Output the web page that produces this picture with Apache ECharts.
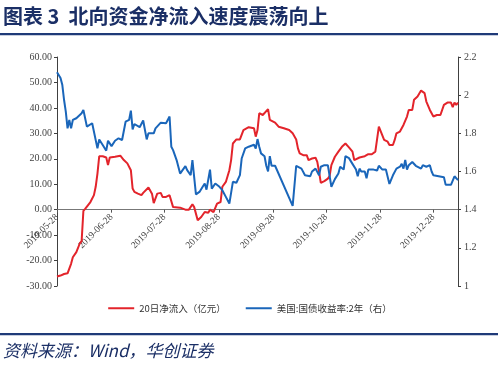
<!DOCTYPE html>
<html><head><meta charset="utf-8">
<script src="https://cdn.jsdelivr.net/npm/echarts@6/dist/echarts.min.js"></script>
<style>html,body{margin:0;padding:0;background:#fff}#c{width:500px;height:370px}</style>
</head><body><div id="c"></div>
<script>
// ---- data ----
const startDate = '2019-05-28';
const endDate = '2020-01-11';
const tickDates = ['2019-05-28','2019-06-28','2019-07-28','2019-08-28','2019-09-28','2019-10-28','2019-11-28','2019-12-28'];
const leftTicks = [-30,-20,-10,0,10,20,30,40,50,60];
const rightTicks = [1,1.2,1.4,1.6,1.8,2,2.2];
const titleText = '图表 3  北向资金净流入速度震荡向上';
const sourceText = '资料来源：Wind，华创证券';
const seriesNames = ['20日净流入（亿元）','美国:国债收益率:2年（右）'];

// day offsets from startDate, with values
const redDay = [0,2,4,6,7,8,9,11,13,14,15,16,17,19,21,22,23,24,26,28,29,30,33,36,37,38,40,42,43,44,46,48,49,52,54,55,57,59,60,62,64,65,66,70,73,75,77,78,80,82,84,86,87,89,90,91,93,94,96,98,99,100,102,104,106,109,110,112,113,114,115,117,118,120,121,122,124,126,129,132,134,136,137,138,140,142,143,145,147,148,149,150,152,154,155,156,158,160,162,164,165,166,168,169,170,172,173,175,177,179,181,182,183,184,186,188,189,191,192,193,195,197,199,200,202,203,205,207,209,210,212,214,216,217,218,220,222,224,225,226,227,228];
const redVal = [-26.3,-25.9,-25.3,-25.0,-24.6,-21.3,-18.7,-16.7,-13.2,-12.4,-0.5,0.3,1.0,3.0,5.7,9.0,14.2,21.0,21.0,20.5,17.5,20.5,20.8,21.2,21.3,19.5,18.2,15.5,8.3,7.0,6.3,5.7,6.6,8.7,6.3,2.6,6.3,6.6,5.0,5.0,5.7,5.0,1.0,0.8,0.0,0.0,2.1,1.0,-4.2,-2.9,-0.9,-1.2,0.0,-1.0,-1.3,2.4,3.0,9.0,10.9,15.5,19.5,26.0,27.6,27.6,31.3,32.4,32.4,32.0,28.7,31.3,37.9,37.2,37.2,39.5,35.3,35.9,34.2,32.6,32.0,31.3,30.0,27.6,24.1,22.1,21.4,21.4,19.5,20.1,20.4,18.8,14.9,10.5,11.2,12.2,13.2,17.5,20.8,22.8,24.7,26.0,25.4,24.5,22.8,19.5,19.5,20.5,20.1,21.0,21.8,21.8,22.8,23.4,32.6,32.6,27.4,26.7,25.4,25.4,27.4,30.0,30.7,33.3,36.6,39.2,39.2,43.2,44.5,46.8,45.8,42.5,39.2,36.6,37.2,37.9,37.2,41.2,42.1,42.1,40.3,42.1,41.2,42.1];

const blueDay = [0,2,3,4,5,6,7,8,9,11,14,15,16,17,20,21,23,24,26,28,29,31,33,35,37,39,41,42,43,44,47,49,51,52,55,56,59,62,63,64,65,66,68,70,71,73,74,76,77,79,81,83,84,85,87,88,90,92,94,96,98,99,100,102,104,105,107,109,110,112,113,114,115,116,118,119,120,121,122,124,125,134,136,139,141,142,144,145,147,149,150,152,154,156,158,160,161,163,164,166,168,170,171,172,173,175,176,177,180,182,183,185,187,188,189,191,192,193,195,196,197,198,199,200,202,204,207,208,210,212,213,214,217,220,221,224,225,226,227,228];
const blueVal = [2.12,2.09,2.055,1.976,1.914,1.826,1.87,1.826,1.87,1.879,1.905,1.923,1.879,1.835,1.853,1.856,1.721,1.768,1.739,1.709,1.761,1.733,1.761,1.774,1.765,1.861,1.87,1.919,1.821,1.849,1.832,1.867,1.768,1.8,1.8,1.826,1.856,1.853,1.844,1.888,1.73,1.712,1.66,1.589,1.59,1.628,1.607,1.581,1.66,1.48,1.493,1.523,1.537,1.505,1.61,1.51,1.537,1.523,1.502,1.467,1.432,1.44,1.546,1.541,1.581,1.668,1.721,1.73,1.73,1.74,1.72,1.77,1.73,1.695,1.68,1.63,1.60,1.68,1.63,1.63,1.63,1.42,1.63,1.615,1.58,1.59,1.575,1.60,1.615,1.58,1.625,1.633,1.633,1.52,1.56,1.59,1.625,1.61,1.68,1.67,1.64,1.61,1.575,1.615,1.60,1.60,1.565,1.61,1.61,1.605,1.63,1.61,1.61,1.605,1.535,1.58,1.57,1.615,1.625,1.64,1.615,1.66,1.61,1.633,1.65,1.63,1.615,1.633,1.625,1.633,1.60,1.58,1.575,1.57,1.53,1.53,1.535,1.575,1.575,1.555];

// ---- build ----
const categories = [];
(function(){
  const d = new Date(startDate + 'T00:00:00Z');
  const e = new Date(endDate + 'T00:00:00Z');
  while (d <= e) { categories.push(d.toISOString().slice(0,10)); d.setUTCDate(d.getUTCDate()+1); }
})();
const redData = redDay.map((d,i)=>[categories[d], redVal[i]]);
const blueData = blueDay.map((d,i)=>[categories[d], blueVal[i]]);

const GRID_TOP = 57, GRID_BOTTOM = 84, H = 370;
const lMin = leftTicks[0], lMax = leftTicks[leftTicks.length-1];
const plotH = H - GRID_TOP - GRID_BOTTOM;
const zeroShift = plotH * (0 - lMin) / (lMax - lMin); // distance from bottom to zero line

const navy = '#1F3A78';
const serif = '"Liberation Serif","Times New Roman",serif';
const chart = echarts.init(document.getElementById('c'), null, {renderer:'canvas'});
chart.setOption({
  animation: false,
  backgroundColor: '#fff',
  grid: {left: 57, right: 42, top: GRID_TOP, bottom: GRID_BOTTOM, containLabel: false},
  graphic: [
    {type:'text', left: 3, top: 6, style:{text: titleText, font: 'bold 20px "Noto Sans CJK SC"', fill: '#1B2F66'}},
    {type:'rect', shape:{x:0, y:33, width:498, height:2.2}, style:{fill: navy}},
    {type:'rect', shape:{x:0, y:333, width:498, height:2.3}, style:{fill: navy}},
    {type:'text', left: 3, top: 342, style:{text: sourceText, font: 'italic 17px "Noto Sans CJK SC"', fill: '#1B2F66'}}
  ],
  legend: {
    bottom: 52, left: 'center', itemWidth: 26, itemHeight: 2, itemGap: 20,
    icon: 'rect',
    textStyle: {fontSize: 9.5, color: '#333', fontFamily: '"Noto Sans CJK SC"'},
    data: seriesNames
  },
  xAxis: {
    type: 'category', data: categories, boundaryGap: false,
    offset: -zeroShift,
    axisLine: {onZero: false, lineStyle: {color: '#777', width: 1}},
    axisTick: {show: true, length: 3, interval: (i, v) => tickDates.includes(v), lineStyle:{color:'#555'}},
    axisLabel: {interval: (i, v) => tickDates.includes(v), rotate: 45, margin: 6, fontSize: 9.5, color: '#444', fontFamily: serif},
    splitLine: {show: false}
  },
  yAxis: [
    {type: 'value', min: lMin, max: lMax, interval: 10,
     axisLine: {show: true, lineStyle: {color: '#404040'}},
     axisTick: {show: true, length: 3, lineStyle:{color:'#404040'}},
     axisLabel: {formatter: v => v.toFixed(2), fontSize: 10, color: '#444', fontFamily: serif, margin: 5},
     splitLine: {show: false}},
    {type: 'value', min: rightTicks[0], max: rightTicks[rightTicks.length-1], interval: 0.2,
     axisLine: {show: true, lineStyle: {color: '#404040'}},
     axisTick: {show: true, length: 3, lineStyle:{color:'#404040'}},
     axisLabel: {formatter: v => String(+v.toFixed(1)), fontSize: 10, color: '#444', fontFamily: serif, margin: 6},
     splitLine: {show: false}}
  ],
  series: [
    {name: seriesNames[0], type: 'line', yAxisIndex: 0, data: redData, symbol: 'none',
     lineStyle: {color: '#E3242B', width: 2}, itemStyle: {color: '#E3242B'}},
    {name: seriesNames[1], type: 'line', yAxisIndex: 1, data: blueData, symbol: 'none',
     lineStyle: {color: '#1A66BA', width: 2}, itemStyle: {color: '#1A66BA'}}
  ]
});
</script>
</body></html>
